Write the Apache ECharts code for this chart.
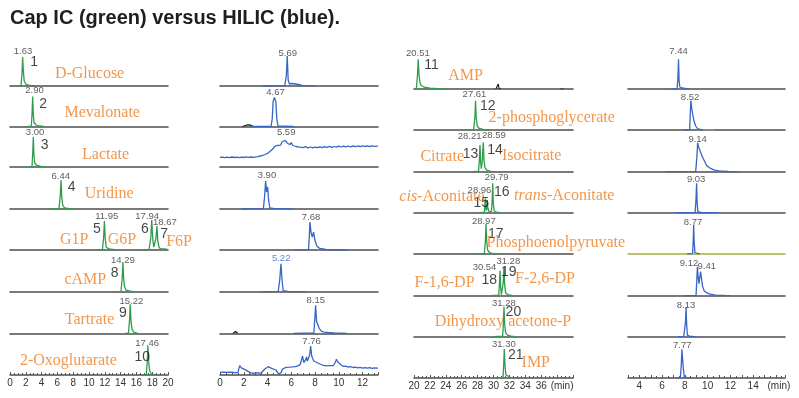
<!DOCTYPE html>
<html>
<head>
<meta charset="UTF-8">
<title>Cap IC (green) versus HILIC (blue)</title>
<script src="https://cdn.jsdelivr.net/npm/echarts@6/dist/echarts.min.js"></script>
<style>
  html, body { margin: 0; padding: 0; background: #fff; }
  #main { width: 799px; height: 398px; }
</style>
</head>
<body>
<div id="main"></div>
<script>
// retention time range of each column (min)
const columnRanges = [[0, 20], [0, 13.3], [20, 40], [3, 16.8]];

// Cap IC traces, first column (peaks 1-10), [time, height]
const capIcA = [
  [[1.0,0],[1.4,0.3],[1.52,12],[1.6,29],[1.7,14],[1.8,5],[2.0,2],[2.3,0.8],[2.8,0.3],[3.0,0]],
  [[2.2,0],[2.7,0.3],[2.8,14],[2.87,30],[2.95,12],[3.05,4],[3.3,1.5],[3.7,0.5],[4.3,0]],
  [[2.3,0],[2.78,0.3],[2.88,14],[2.95,30],[3.03,12],[3.13,4],[3.4,1.5],[3.9,0.5],[4.5,0]],
  [[5.2,0],[6.2,0.3],[6.37,14],[6.46,29],[6.55,12],[6.67,4],[6.9,1.2],[7.5,0.4],[8.0,0]],
  [[11.0,0],[11.7,0.3],[11.85,12],[11.95,29],[12.05,12],[12.18,3],[12.5,1],[13.5,0],[15,'-'],[16.8,0],[17.6,0.5],[17.82,12],[17.94,30],[18.08,10],[18.2,3],[18.32,2],[18.48,12],[18.6,24],[18.72,8],[18.9,2],[19.07,3],[19.2,1],[19.4,3],[19.55,1],[19.9,0.5],[20,0.3]],
  [[13.4,0],[14.05,0.3],[14.2,13],[14.29,29],[14.38,14],[14.5,5],[14.7,1.5],[15.2,0.5],[15.6,0]],
  [[14.6,0],[15.0,0.3],[15.13,13],[15.22,29],[15.32,12],[15.45,4],[15.7,1],[16.2,0]],
  [[16.8,0],[17.25,0.3],[17.37,13],[17.46,29],[17.56,13],[17.68,4],[17.9,1],[18.4,0]]
];

// HILIC traces, second column
const hilicA = [
  [[3.6,0],[5.45,0.3],[5.58,10],[5.66,30],[5.74,6],[5.85,2],[6.05,2.5],[6.2,3.5],[6.35,2],[6.6,1.5],[6.9,0.5],[7.5,0.3],[8.0,0]],
  [[2.7,0],[4.3,0.3],[4.4,8],[4.47,25],[4.58,29],[4.7,25],[4.78,8],[4.88,0.5],[5.4,0.3],[6.2,0]],
  [[0,9.6],[0.2,9.9],[0.4,9.3],[0.6,9.8],[0.8,9.4],[1.0,10],[1.2,9.5],[1.4,9.9],[1.6,9.3],[1.8,9.8],[2.0,9.5],[2.2,10.1],[2.4,9.6],[2.6,10],[2.8,9.7],[3.0,10.2],[3.2,10.4],[3.4,11],[3.6,11.6],[3.8,12.5],[4.0,13.6],[4.2,15.4],[4.4,17.5],[4.6,20.3],[4.8,21.5],[4.95,23],[5.1,21.8],[5.24,25.5],[5.35,23.5],[5.47,26.5],[5.57,28],[5.66,24],[5.75,25.8],[5.88,22.3],[6.0,24.5],[6.12,21.5],[6.25,22.8],[6.4,20.5],[6.55,21.6],[6.7,19.8],[6.85,20.7],[7.0,19.4],[7.2,20.3],[7.4,19.2],[7.6,20],[7.8,19.1],[8.0,19.9],[8.2,19.3],[8.4,20.2],[8.6,19.4],[8.8,20.3],[9.0,19.6],[9.2,20.6],[9.4,19.7],[9.6,20.5],[9.8,19.8],[10.0,20.8],[10.2,20],[10.4,20.9],[10.6,20.1],[10.8,21],[11.0,20.2],[11.2,21.1],[11.4,20.3],[11.6,21],[11.8,20.4],[12.0,21.2],[12.2,20.5],[12.4,21.1],[12.6,20.4],[12.8,21.2],[13.0,20.6],[13.3,20.9]],
  [[1.8,0],[3.65,0.3],[3.75,12],[3.84,28],[3.92,17],[3.96,19],[4.01,22],[4.1,8],[4.2,1],[4.6,0.3],[6.1,0]],
  [[6.3,0],[7.45,0.3],[7.52,14],[7.57,28],[7.67,17],[7.77,13],[7.88,18],[7.98,10],[8.15,4],[8.4,1.5],[8.9,0.5],[10.7,0]],
  [[3.6,0],[4.9,0.3],[5.03,12],[5.13,28],[5.22,12],[5.32,1],[5.7,0.3],[7.2,0]],
  [[6.2,0],[7.9,0.3],[7.98,14],[8.05,28],[8.13,12],[8.2,10],[8.25,11],[8.35,5],[8.55,2],[8.9,0.8],[9.6,0.3],[10.7,0]],
  [[0,2.6],[0.15,2.2],[0.3,2.9],[0.45,2.3],[0.6,2.7],[0.75,2.1],[0.9,2.8],[1.05,2.2],[1.2,2.5],[1.35,1.9],[1.5,2.4],[1.6,1.8],[1.66,9.3],[1.8,7.2],[1.95,6.5],[2.1,5.4],[2.25,4.6],[2.4,3.4],[2.6,2.2],[2.8,1.6],[3.0,2.3],[3.1,3.2],[3.25,2.0],[3.45,1.8],[3.6,3.5],[3.75,5.8],[3.9,6.9],[4.05,8.3],[4.2,7.0],[4.35,6.6],[4.5,5.3],[4.7,5.0],[4.85,4.4],[4.95,0.8],[5.05,0.2],[5.15,2.5],[5.25,5.7],[5.4,6.8],[5.55,7.6],[5.7,8.4],[5.85,7.8],[6.0,8.8],[6.15,8.1],[6.3,9.2],[6.45,8.6],[6.6,9.6],[6.75,10.3],[6.85,12],[6.95,19],[7.05,12.5],[7.12,11.7],[7.2,15],[7.28,18],[7.36,14],[7.45,13],[7.55,20],[7.63,29],[7.72,19],[7.8,16.5],[7.9,14],[8.0,13],[8.15,12.5],[8.3,11.7],[8.5,10.5],[8.7,9.6],[8.9,9.1],[9.05,10],[9.2,9.4],[9.35,8.3],[9.55,9.5],[9.7,12.5],[9.8,15.7],[9.92,13],[10.05,11],[10.2,10],[10.4,8.6],[10.6,8.9],[10.8,7.9],[11.0,8.3],[11.2,7.5],[11.4,7.9],[11.6,7.2],[11.8,7.6],[12.0,6.9],[12.2,7.4],[12.4,6.8],[12.6,7.3],[12.8,6.7],[13.0,7.2],[13.3,6.9]]
];

// Cap IC traces, third column (peaks 11-21)
const capIcB = [
  [[20.0,0],[20.3,0.5],[20.44,14],[20.53,29.7],[20.62,15],[20.74,7],[20.9,3.5],[21.3,1.8],[22,0.8],[23,0.3],[24,0]],
  [[26.4,0],[27.5,0.4],[27.66,13],[27.74,29.3],[27.83,12],[27.95,4],[28.2,1.5],[28.7,0.5],[29.4,0]],
  [[27.4,0],[28.12,0.5],[28.22,12],[28.3,26.7],[28.38,10],[28.47,3],[28.58,10],[28.72,29.4],[28.8,12],[28.92,4],[29.2,1.2],[29.7,0.4],[30.3,0]],
  [[28.3,0],[28.85,0.5],[28.92,7],[28.97,14.3],[29.03,6],[29.1,2],[29.17,6],[29.22,13],[29.28,5],[29.45,0.8],[29.75,1.5],[29.83,12],[29.9,29.4],[29.97,10],[30.08,2],[30.35,0.5],[30.8,0]],
  [[27.8,0],[28.85,0.5],[28.98,13],[29.06,30],[29.14,13],[29.26,4],[29.5,1.5],[29.9,0.5],[30.6,0]],
  [[29.6,0],[30.65,0.5],[30.74,11],[30.82,25],[30.9,8],[31.0,1],[31.12,2],[31.22,13],[31.32,29],[31.4,11],[31.52,3],[31.8,1],[32.4,0]],
  [[30.0,0],[31.15,0.5],[31.24,13],[31.32,30],[31.4,13],[31.52,4],[31.75,1.5],[32.2,0.5],[32.8,0]],
  [[30.4,0],[31.2,0.5],[31.28,13],[31.36,29],[31.44,13],[31.56,3],[31.8,1],[32.3,0]]
];

// HILIC traces, fourth column
const hilicB = [
  [[6.8,0],[7.32,0.3],[7.39,12],[7.44,29.7],[7.49,9],[7.55,2],[7.65,2.8],[7.78,1.2],[8.1,0.3],[8.4,0]],
  [[7.9,0],[8.42,0.3],[8.47,14],[8.52,29.3],[8.6,22],[8.7,15],[8.8,9],[8.95,4],[9.1,1.5],[9.4,0.5],[9.6,0]],
  [[6.3,0],[8.95,0.3],[9.05,14],[9.12,29],[9.2,25],[9.3,23.5],[9.4,19],[9.5,16],[9.62,13],[9.75,10],[9.9,6.5],[10.1,4.5],[10.3,3],[10.6,1.5],[11,0.8],[11.8,0.3],[12.6,0]],
  [[7.26,0],[8.9,0.3],[8.97,12],[9.03,29.4],[9.08,10],[9.14,1],[9.4,0.3],[10.9,0]],
  [[8.2,0],[8.68,0.3],[8.73,13],[8.77,29],[8.82,12],[8.88,1.5],[9.1,0.5],[9.3,0]],
  [[8.0,0],[8.98,0.3],[9.04,14],[9.1,29],[9.17,18],[9.24,12],[9.31,18],[9.38,24],[9.46,17],[9.56,9],[9.7,5],[9.9,3],[10.2,1.5],[10.7,0.6],[11.5,0.2],[12.0,0]],
  [[7.4,0],[7.9,0.3],[7.98,0.8],[8.05,14],[8.1,29.4],[8.16,12],[8.22,1.5],[8.4,0.5],[8.7,0.2],[9.0,0]],
  [[7.2,0],[7.6,0.3],[7.68,12],[7.74,28.7],[7.8,27],[7.86,10],[7.95,1],[8.2,0.3],[8.5,0]]
];

// small black blips on the baselines: [column, row, points]
const blackBlips = [
  [0, 0, [[2.7,0],[2.9,1.5],[3.1,0]]],
  [1, 1, [[1.9,0],[2.2,1.3],[2.5,1.6],[2.8,0]]],
  [1, 6, [[1.1,0],[1.3,1.8],[1.5,0]]],
  [2, 0, [[30.3,0],[30.5,0.5],[30.6,5],[30.7,0.5],[30.9,0]]],
  [2, 0, [[38.4,0],[38.6,2],[38.8,0]]]
];
// green tail left on a HILIC baseline
const greenTails = [
  [3, 1, [[9.5,0],[10.6,0]]]
];

// retention time labels: [column, row, time, height, text]
const retentionLabels = [
  [0,0,1.65,35,'1.63'], [0,1,3.1,36,'2.90'], [0,2,3.16,34.3,'3.00'], [0,3,6.43,32.7,'6.44'],
  [0,4,12.24,33.7,'11.95'], [0,4,17.37,33.7,'17.94'], [0,4,19.6,28,'18.67'],
  [0,5,14.28,31.4,'14.29'], [0,6,15.36,31.6,'15.22'], [0,7,17.37,31.7,'17.46'],
  [1,0,5.71,33,'5.69'], [1,1,4.67,33.7,'4.67'], [1,2,5.57,34.3,'5.59'], [1,3,3.95,34,'3.90'],
  [1,4,7.67,32.7,'7.68'], [1,6,8.07,33,'8.15'], [1,7,7.71,33.3,'7.76'],
  [2,0,20.48,36,'20.51'], [2,1,27.61,35.3,'27.61'], [2,2,27.0,35,'28.21'], [2,2,30.04,36.7,'28.59'],
  [2,3,28.24,22.7,'28.96'], [2,3,30.4,35.4,'29.79'], [2,4,28.78,32.7,'28.97'],
  [2,5,28.87,27.9,'30.54'], [2,5,31.86,34.7,'31.28'], [2,6,31.3,33.7,'31.28'], [2,7,31.3,33.3,'31.30'],
  [3,0,7.44,37.4,'7.44'], [3,1,8.46,32.2,'8.52'], [3,2,9.12,32.7,'9.14'], [3,3,8.99,33,'9.03'],
  [3,4,8.72,31.3,'8.77'], [3,5,8.36,32,'9.12'], [3,5,9.93,29,'9.41'], [3,6,8.1,31.7,'8.13'],
  [3,7,7.77,32.5,'7.77']
];
// the one retention label printed in blue
const blueRetentionLabels = [
  [1,5,5.15,33.4,'5.22']
];

// peak numbers
const peakNumbers = [
  [0,0,3.06,23.7,'1'], [0,1,4.18,22.2,'2'], [0,2,4.37,22,'3'], [0,3,7.8,22.3,'4'],
  [0,4,11.01,20.7,'5'], [0,4,17.09,20.7,'6'], [0,4,19.5,15.7,'7'], [0,5,13.25,18.4,'8'],
  [0,6,14.28,20,'9'], [0,7,16.75,18.3,'10'],
  [2,0,22.2,23.7,'11'], [2,1,29.27,24,'12'], [2,2,27.1,17.5,'13'], [2,2,30.19,21.2,'14'],
  [2,3,28.47,9.4,'15'], [2,3,31.03,20.2,'16'], [2,4,30.29,19.7,'17'], [2,5,29.47,15.7,'18'],
  [2,5,31.93,23.7,'19'], [2,6,32.5,24.7,'20'], [2,7,32.8,23,'21']
];

// compound names
const compoundNames = [
  [0,0,10.07,12.3,'D-Glucose'], [0,1,11.67,13.8,'Mevalonate'], [0,2,12.1,12.5,'Lactate'],
  [0,3,12.55,14.8,'Uridine'], [0,4,8.12,10,'G1P'], [0,4,14.18,10,'G6P'], [0,4,21.4,8.7,'F6P'],
  [0,5,9.53,12.2,'cAMP'], [0,6,10.06,13.6,'Tartrate'], [0,7,7.38,14.3,'2-Oxoglutarate'],
  [2,0,26.48,13.5,'AMP'], [2,1,37.32,12.3,'2-phosphoglycerate'], [2,2,23.55,15.4,'Citrate'],
  [2,2,34.8,15.7,'Isocitrate'], [2,3,23.52,16,'{i|cis}-Aconitate'], [2,3,38.9,16.7,'{i|trans}-Aconitate'],
  [2,4,37.84,11.3,'Phosphoenolpyruvate'], [2,5,23.84,12.7,'F-1,6-DP'], [2,5,36.48,17.4,'F-2,6-DP'],
  [2,6,31.2,15,'Dihydroxy acetone-P'], [2,7,35.32,15,'IMP']
];

// layout
const colLeft = [10, 220, 414, 628];
const colWidth = [158, 158, 159, 157];
const baseLeft = [86, 126.5, 167, 209, 250, 291.7, 333.3, 375];
const baseRight = [89, 130, 171.7, 212.7, 254, 295.7, 336.7, 378];
const PANEL_H = 40;

const GREEN = '#2f9c4c';
const BLUE = '#3766c6';
const ORANGE = '#ee7d1e';
const SANS = "'Liberation Sans Narrow', 'Liberation Sans', Arial, sans-serif";
const SERIF = "'Liberation Serif', 'Times New Roman', serif";

const columnTraces = [capIcA, hilicA, capIcB, hilicB];
const columnColors = [GREEN, BLUE, GREEN, BLUE];

function tickLabel(c) {
  return function(v) {
    const r = Math.round(v * 100) / 100;
    if (c === 3) {
      if (r % 2 !== 0) return '';
      return r === 16 ? '{m|(min)}' : String(r);
    }
    if (r % 2 !== 0) return '';
    if (c === 2) {
      if (r === 40) return '';
      if (r === 38) return '{m|(min)}';
    }
    return String(r);
  };
}

const grids = [], xAxes = [], yAxes = [], series = [];

for (let c = 0; c < 4; c++) {
  for (let r = 0; r < 8; r++) {
    const idx = c * 8 + r;
    const base = (c < 2 ? baseLeft : baseRight)[r];
    const last = r === 7;
    grids.push({ left: colLeft[c], width: colWidth[c], top: base - PANEL_H, height: PANEL_H });
    xAxes.push({
      gridIndex: idx,
      type: 'value',
      min: columnRanges[c][0],
      max: columnRanges[c][1],
      interval: c === 3 ? 1 : 2,
      axisLine: {
        show: true, onZero: false,
        lineStyle: { color: (c === 3 && r === 4) ? '#a6ae3c' : '#4d4d4d', width: 1.5 }
      },
      axisTick: { show: last, inside: true, length: 3, lineStyle: { color: '#555', width: 1 } },
      minorTick: { show: last, splitNumber: c === 3 ? 2 : 4, length: 2, lineStyle: { color: '#555', width: 1 } },
      axisLabel: {
        show: last,
        margin: 3,
        fontSize: 10,
        color: '#333',
        fontFamily: 'Liberation Sans, Arial, sans-serif',
        formatter: tickLabel(c),
        rich: { m: { fontSize: 10, color: '#333', padding: [0, 0, 0, c === 2 ? 10 : 6] } }
      },
      splitLine: { show: false }
    });
    yAxes.push({ gridIndex: idx, type: 'value', min: 0, max: PANEL_H, show: false });

    series.push({
      type: 'line',
      xAxisIndex: idx, yAxisIndex: idx,
      data: columnTraces[c][r],
      symbol: 'none',
      silent: true,
      z: 3,
      lineStyle: { color: columnColors[c], width: 1.3 }
    });
  }
}

function addTrace(list, color) {
  list.forEach(function(item) {
    const idx = item[0] * 8 + item[1];
    series.push({
      type: 'line', xAxisIndex: idx, yAxisIndex: idx, data: item[2],
      symbol: 'none', silent: true, z: 2,
      lineStyle: { color: color, width: 1.2 }
    });
  });
}
addTrace(blackBlips, '#222');
addTrace(greenTails, '#7cc486');

function addLabels(list, labelStyle) {
  const byGrid = {};
  list.forEach(function(item) {
    const idx = item[0] * 8 + item[1];
    (byGrid[idx] = byGrid[idx] || []).push({ name: item[4], value: [item[2], item[3]] });
  });
  Object.keys(byGrid).forEach(function(k) {
    const idx = Number(k);
    series.push({
      type: 'scatter',
      xAxisIndex: idx, yAxisIndex: idx,
      data: byGrid[k],
      symbolSize: 1,
      clip: false,
      silent: true,
      z: 5,
      itemStyle: { color: 'rgba(0,0,0,0)' },
      label: Object.assign({ show: true, position: 'inside', formatter: '{b}' }, labelStyle)
    });
  });
}

addLabels(retentionLabels, { fontSize: 9.5, color: '#333', fontFamily: SANS });
addLabels(blueRetentionLabels, { fontSize: 9.5, color: BLUE, fontFamily: SANS });
addLabels(peakNumbers, { fontSize: 14, color: '#151515', fontFamily: SANS });
addLabels(compoundNames, {
  fontSize: 16, color: ORANGE, fontFamily: SERIF,
  rich: { i: { fontSize: 16, color: ORANGE, fontFamily: SERIF, fontStyle: 'italic' } }
});

const chart = echarts.init(document.getElementById('main'), null, { renderer: 'canvas' });
chart.setOption({
  animation: false,
  backgroundColor: '#fff',
  title: {
    text: 'Cap IC (green) versus HILIC (blue).',
    left: 5, top: 3,
    textStyle: { fontSize: 20, fontWeight: 'bold', color: '#1e1e1e', fontFamily: 'Liberation Sans, Arial, sans-serif' }
  },
  grid: grids,
  xAxis: xAxes,
  yAxis: yAxes,
  series: series
});
</script>
</body>
</html>
